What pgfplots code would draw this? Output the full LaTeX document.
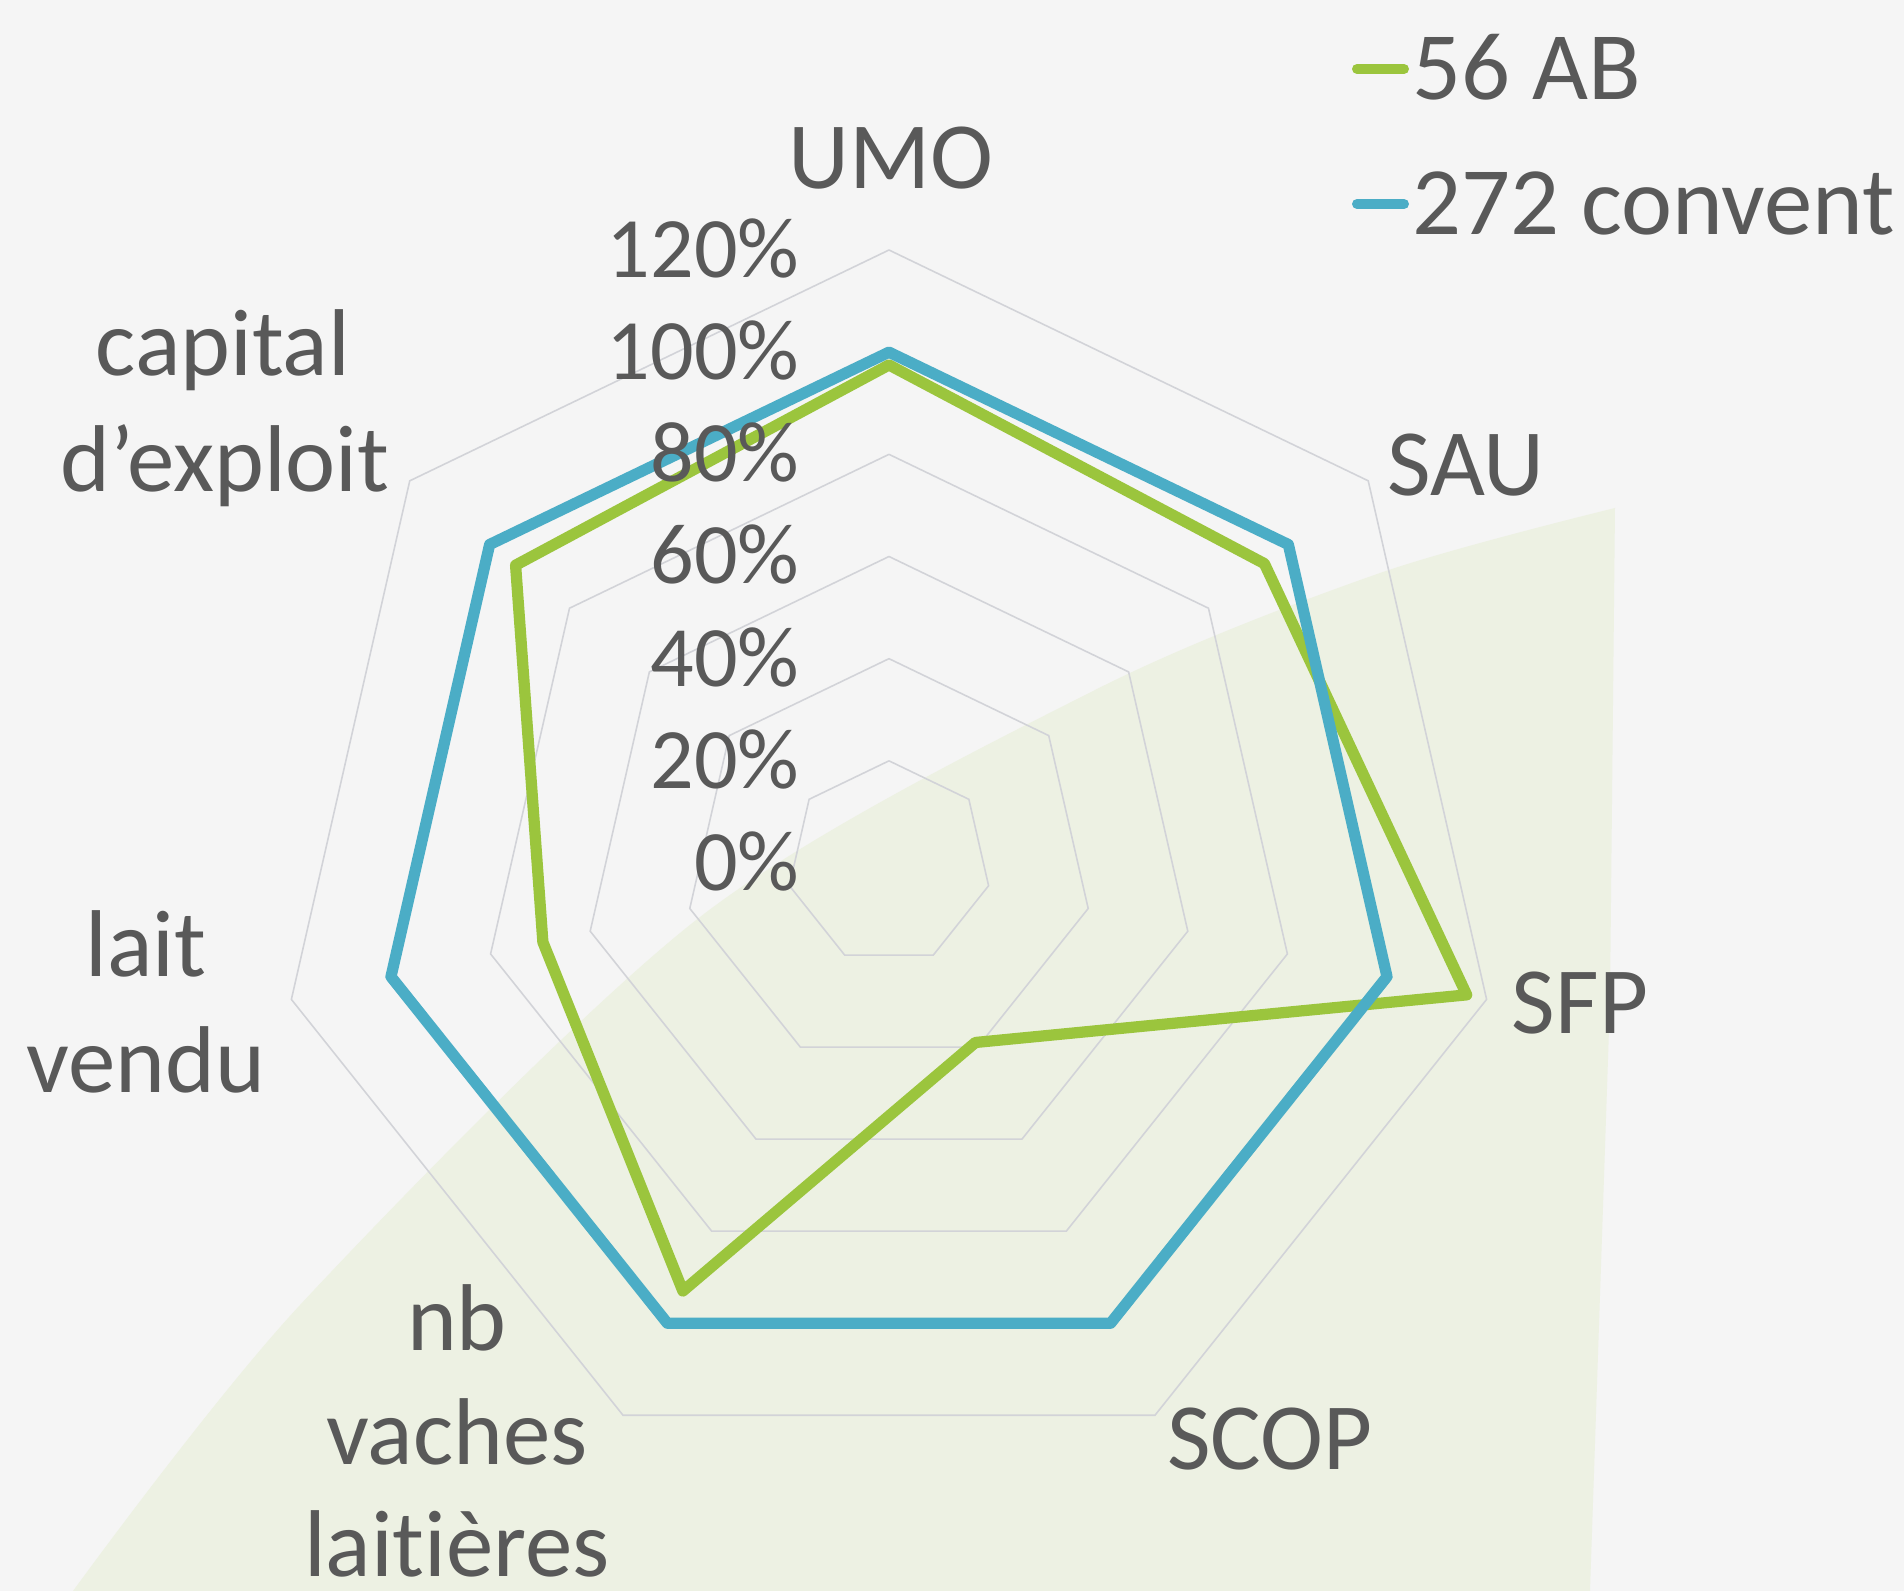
\documentclass[border=0pt]{standalone}
\usepackage{pgfplots}
\pgfplotsset{compat=1.18}
\usepgfplotslibrary{polar}
\usepackage{pgfplotstable}
\usepackage{fontspec}
\setmainfont{Carlito}[Ligatures={NoCommon}]
\definecolor{bg}{HTML}{F5F5F5}
\definecolor{lens}{HTML}{EDF1E3}
\definecolor{ab}{HTML}{9BC53D}
\definecolor{conv}{HTML}{4BADC6}
\definecolor{txt}{HTML}{595959}
\definecolor{gridc}{HTML}{D2D3D8}

\pgfplotstableread{
angle ab conv
90       97.5  100
38.5714  94    100
347.1429 116   100
295.7143 39    100
244.2857 93    100
192.8571 69.5  100
141.4286 93.5  100
90       97.5  100
}\radardata

\begin{document}
\begin{tikzpicture}
\useasboundingbox (0,0) rectangle (19.04,-15.91);
\clip (0,0) rectangle (19.04,-15.91);
\fill[bg] (0,0) rectangle (19.04,-15.91);
\fill[lens] plot[smooth] coordinates {(0.73,-15.91) (3.00,-13.05) (7.00,-9.17) (10.95,-6.90) (13.80,-5.73) (16.15,-5.08)}
  -- (16.10,-10.00) -- (15.90,-15.91) -- (15.90,-16.40) -- (0.40,-16.40) -- cycle;

\begin{polaraxis}[
  at={(8.89cm,-8.63cm)}, anchor=center,
  width=12.26cm, height=12.26cm, scale only axis,
  xmin=0, xmax=360, ymin=0, ymax=120,
  hide axis, clip=false,
]
\foreach \r in {20,40,60,80,100,120}{
  \edef\temp{\noexpand\addplot[gridc, line width=0.45pt, forget plot] coordinates {(90,\r) (38.5714,\r) (347.1429,\r) (295.7143,\r) (244.2857,\r) (192.8571,\r) (141.4286,\r) (90,\r)};}
  \temp
}
\addplot[ab, line width=3.2pt, line join=round, line cap=round] table[x=angle, y=ab] {\radardata};
\addplot[conv, line width=3.2pt, line join=round, line cap=round] table[x=angle, y=conv] {\radardata};
\end{polaraxis}

% percentage labels
\begin{scope}[every node/.style={anchor=base east, inner sep=0pt, text=txt, font=\fontsize{24.5}{29}\selectfont}]
\node at (8.00,-8.905) {0\%};
\node at (8.00,-7.885) {20\%};
\node at (8.00,-6.865) {40\%};
\node at (8.00,-5.835) {60\%};
\node at (8.00,-4.815) {80\%};
\node at (8.00,-3.795) {100\%};
\node at (8.00,-2.775) {120\%};
\end{scope}

% category labels
\begin{scope}[every node/.style={anchor=base, inner sep=0pt, text=txt, font=\fontsize{27}{32.4}\selectfont}]
\node at (8.91,-1.89) {UMO};
\node at (14.66,-4.96) {SAU};
\node at (15.80,-10.33) {SFP};
\node at (12.70,-14.69) {SCOP};
\node at (4.57,-13.50) {nb};
\node at (4.57,-14.64) {vaches};
\node at (4.57,-15.76) {laitières};
\node at (1.46,-9.77) {lait};
\node at (1.46,-10.93) {vendu};
\node at (2.23,-3.76) {capital};
\node at (2.25,-4.92) {d’exploit};
\end{scope}

% legend
\draw[ab, line width=0.1cm, line cap=round] (13.57,-0.69) -- (14.04,-0.69);
\draw[conv, line width=0.1cm, line cap=round] (13.57,-2.04) -- (14.04,-2.04);
\node[anchor=base west, inner sep=0pt, text=txt, font=\fontsize{27.5}{33}\selectfont] at (14.12,-1.00) {56 AB};
\node[anchor=base west, inner sep=0pt, text=txt, font=\fontsize{27.5}{33}\selectfont] at (14.12,-2.35) {272 convent};
\end{tikzpicture}
\end{document}
